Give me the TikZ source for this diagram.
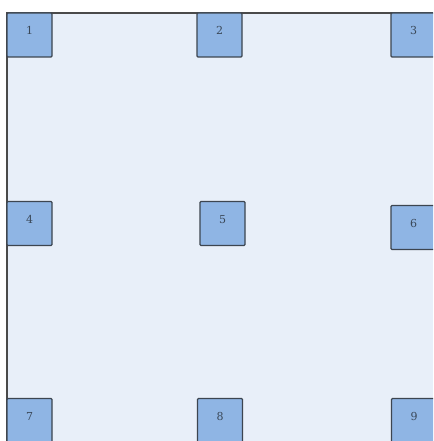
\documentclass[tikz,border=0pt]{standalone}
\usepackage{fontspec}
\newfontfamily\cellfont{DejaVu Serif}
\begin{document}
\begin{tikzpicture}[x=1pt,y=-1pt,
  panel/.style={fill=bgblue,draw=none},
  edgeline/.style={draw=edgegray,line width=1.3pt},
  cell/.style={draw=boxedge,fill=boxfill,line width=1.2pt,rounded corners=1pt,
    minimum width=45pt,minimum height=44pt,inner sep=0pt,
    text=txtcol,font=\cellfont\fontsize{11}{13}\selectfont,text height=8pt,text depth=8pt}]
\definecolor{bgblue}{HTML}{E8EFF9}
\definecolor{edgegray}{HTML}{4A4A4A}
\definecolor{boxfill}{HTML}{8FB5E4}
\definecolor{boxedge}{HTML}{3C4550}
\definecolor{txtcol}{HTML}{3A4858}
\useasboundingbox (0,0) rectangle (433,441);
\clip (0,0) rectangle (433,441);
\fill[bgblue] (7,13) rectangle (433,441);
\draw[edgeline] (7,441) -- (7,13) -- (433,13);
\node[cell] (n1) at (29.5,35) {1};
\node[cell] (n2) at (219.5,35) {2};
\node[cell] (n3) at (413.5,35) {3};
\node[cell] (n4) at (29.5,223.5) {4};
\node[cell] (n5) at (222.5,223.5) {5};
\node[cell] (n6) at (413.5,227.5) {6};
\node[cell] (n7) at (29.5,420.5) {7};
\node[cell] (n8) at (220,420.5) {8};
\node[cell] (n9) at (414,420.5) {9};
\end{tikzpicture}
\end{document}
